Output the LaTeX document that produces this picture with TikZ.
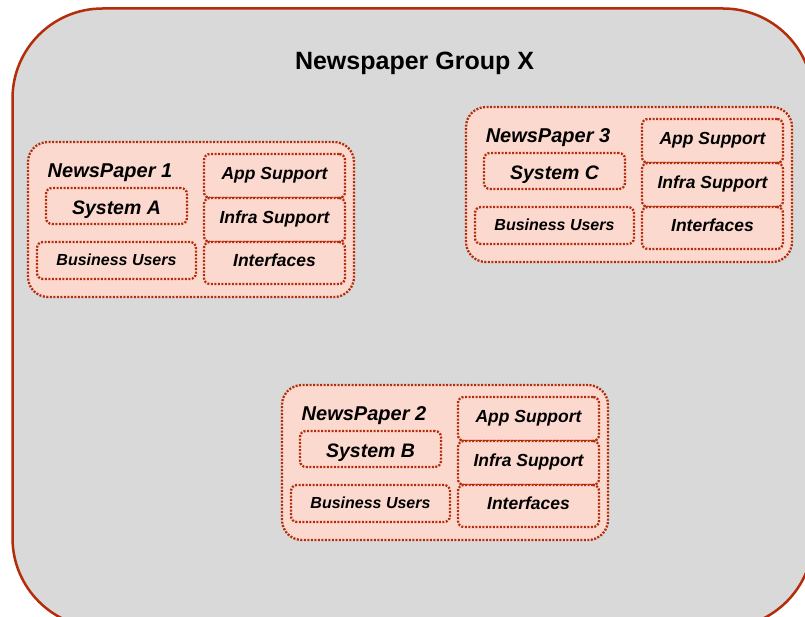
\documentclass[tikz,border=0pt]{standalone}
\usepackage{fontspec}
\setmainfont{Liberation Sans}
\definecolor{edge}{RGB}{180,45,10}
\definecolor{grayfill}{RGB}{217,217,217}
\definecolor{pink}{RGB}{252,217,207}
\tikzset{
  dotline/.style={draw=edge, line width=2.3pt, dash pattern=on 2pt off 1.5pt},
  grp/.style={dotline, fill=pink, rounded corners=20pt, inner sep=0pt},
  sbox/.style={dotline, fill=pink, rounded corners=6pt, inner sep=0pt},
  colfont/.style={font=\fontsize{17.5}{20}\selectfont\bfseries\itshape, text height=12.5pt, text depth=5pt},
  sysfont/.style={font=\fontsize{19.5}{22}\selectfont\bfseries\itshape, text height=17pt, text depth=0pt},
  bufont/.style={font=\fontsize{16}{19}\selectfont\bfseries\itshape, text height=11.5pt, text depth=2pt},
  ptitle/.style={inner sep=0pt, font=\fontsize{20}{23}\selectfont\bfseries\itshape, text height=14.3pt, text depth=0pt},
  gtitle/.style={inner sep=0pt, font=\fontsize{25}{29}\selectfont\bfseries, text height=17.9pt, text depth=0pt},
}
\newcommand\paperbox[5]{%
\begin{scope}[shift={(#2,#3)}]
\node[grp, minimum width=326pt, minimum height=155pt] (#1) at (163,77.5) {};
\node[ptitle] (#1t) at (82,28) {#4};
\node[sbox, sysfont, minimum width=141pt, minimum height=36pt] (#1s) at (88.5,64) {#5};
\node[sbox, bufont, minimum width=159pt, minimum height=37pt] (#1b) at (88.5,118.5) {Business Users};
\node[sbox, colfont, minimum width=141pt, minimum height=44pt] (#1a) at (246.5,34) {App Support};
\node[sbox, colfont, minimum width=141pt, minimum height=44pt] (#1i) at (246.5,78) {Infra Support};
\node[sbox, colfont, minimum width=141pt, minimum height=42pt] (#1f) at (246.5,121) {Interfaces};
\end{scope}}
\begin{document}
\begin{tikzpicture}[x={(1pt,0)}, y={(0,-1pt)}]
\useasboundingbox (0,0) rectangle (805,617);
\begin{scope}
\clip (0,0) rectangle (805,617);
\draw[edge, fill=grayfill, line width=2.5pt, rounded corners=90pt] (12.5,8.5) rectangle (813,628);
\end{scope}
\node[gtitle] (title) at (414.5,61) {Newspaper Group X};
\paperbox{pa}{28}{142}{NewsPaper 1}{System A}
\paperbox{pc}{466}{107}{NewsPaper 3}{System C}
\paperbox{pb}{282}{385}{NewsPaper 2}{System B}
\end{tikzpicture}
\end{document}
